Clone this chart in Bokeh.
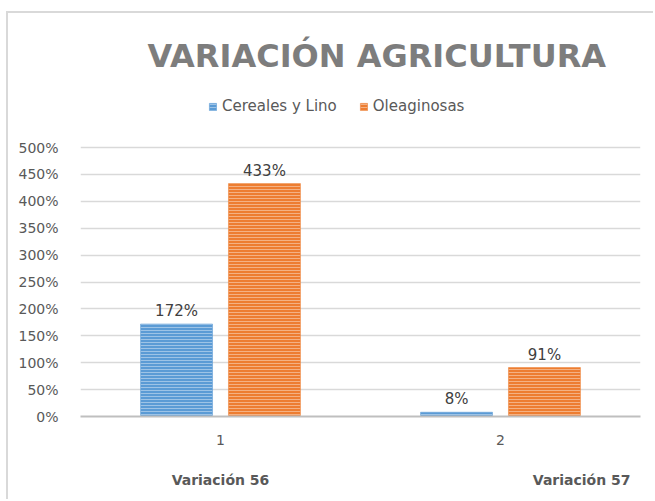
from bokeh.plotting import figure
from bokeh.models import (ColumnDataSource, FixedTicker, NumeralTickFormatter,
                          Legend, LegendItem, Title, LinearAxis, Range1d)
from bokeh.transform import dodge
from bokeh.core.properties import value
from bokeh.embed import file_html
from bokeh.resources import INLINE

# ---- data ----
categories = [1, 2]
cereales = [1.72, 0.08]
oleaginosas = [4.33, 0.91]
series_names = ["Cereales y Lino", "Oleaginosas"]
y_ticks = [0, 0.5, 1.0, 1.5, 2.0, 2.5, 3.0, 3.5, 4.0, 4.5, 5.0]
group_notes = ["Variación 56", "Variación 57"]
group_note_pos = [1.0, 2.29]
title_text = "VARIACIÓN AGRICULTURA"

src = ColumnDataSource(dict(
    cat=categories,
    cer=cereales,
    ole=oleaginosas,
    cer_lbl=[f"{round(v*100)}%" for v in cereales],
    ole_lbl=[f"{round(v*100)}%" for v in oleaginosas],
))

FONT = "DejaVu Sans"

# frame top extends above the 500% line to hold the legend (no grid/ticks there)
p = figure(x_range=Range1d(0.5, 2.5), y_range=Range1d(0, 6.06),
           width=647, height=488, output_backend="svg", toolbar_location=None,
           min_border_left=72, min_border_right=15, min_border_bottom=85, min_border_top=77,
           title=None)
p.styles = {"margin-left": "6px", "margin-top": "11px",
            "border-top": "2px solid #d9d9d9", "border-left": "2px solid #d9d9d9"}

p.outline_line_color = None
p.background_fill_color = "white"
p.border_fill_color = "white"

r1 = p.vbar(x=dodge("cat", -0.157), top="cer", width=0.257, source=src,
            fill_color="#5b9bd5", line_color="#5b9bd5", line_width=0.5,
            hatch_pattern="horizontal_line", hatch_color="white", hatch_alpha=0.4,
            hatch_scale=3, hatch_weight=1)
r2 = p.vbar(x=dodge("cat", 0.157), top="ole", width=0.257, source=src,
            fill_color="#ed7d31", line_color="#ed7d31", line_width=0.5,
            hatch_pattern="horizontal_line", hatch_color="white", hatch_alpha=0.4,
            hatch_scale=3, hatch_weight=1)

p.text(x=dodge("cat", -0.157), y="cer", text="cer_lbl", source=src,
       text_align="center", text_baseline="alphabetic", y_offset=-13,
       text_font=value(FONT), text_font_size="15px", text_color="#404040")
p.text(x=dodge("cat", 0.157), y="ole", text="ole_lbl", source=src,
       text_align="center", text_baseline="alphabetic", y_offset=-13,
       text_font=value(FONT), text_font_size="15px", text_color="#404040")

# axes
p.yaxis.ticker = FixedTicker(ticks=y_ticks)
p.yaxis.formatter = NumeralTickFormatter(format="0%")
p.yaxis.axis_line_color = None
p.yaxis.major_tick_line_color = None
p.yaxis.minor_tick_line_color = None
p.yaxis.major_label_standoff = 16
p.yaxis.major_label_text_font = FONT
p.yaxis.major_label_text_font_size = "14px"
p.yaxis.major_label_text_color = "#595959"

p.xaxis.ticker = FixedTicker(ticks=categories)
p.xaxis.major_label_overrides = {c: str(c) for c in categories}
p.xaxis.axis_line_color = "#bfbfbf"
p.xaxis.axis_line_width = 2
p.xaxis.major_tick_line_color = None
p.xaxis.minor_tick_line_color = None
p.xaxis.major_label_standoff = 12
p.xaxis.major_label_text_font = FONT
p.xaxis.major_label_text_font_size = "14px"
p.xaxis.major_label_text_color = "#595959"

# second row of labels below the axis
ax2 = LinearAxis(ticker=FixedTicker(ticks=group_note_pos),
                 major_label_overrides={k: v for k, v in zip(group_note_pos, group_notes)})
ax2.axis_line_color = None
ax2.major_tick_line_color = None
ax2.minor_tick_line_color = None
ax2.major_label_standoff = 18
ax2.major_label_text_font = FONT
ax2.major_label_text_font_size = "14px"
ax2.major_label_text_font_style = "bold"
ax2.major_label_text_color = "#595959"
p.add_layout(ax2, "below")

p.xgrid.grid_line_color = None
p.ygrid.grid_line_color = "#d9d9d9"
p.ygrid.grid_line_width = 1.5

legend = Legend(items=[LegendItem(label=series_names[0], renderers=[r1]),
                       LegendItem(label=series_names[1], renderers=[r2])],
                orientation="horizontal", location=(128, 301), margin=0, padding=0,
                spacing=22, glyph_width=9, glyph_height=9, label_standoff=5,
                label_text_font=FONT, label_text_font_size="15px",
                label_text_color="#595959", border_line_alpha=0,
                background_fill_alpha=0)
p.add_layout(legend, "center")

t = Title(text=title_text, align="left", offset=67, standoff=32,
          text_font=FONT, text_font_size="32px", text_font_style="bold",
          text_color="#7d7d7d")
p.add_layout(t, "above")

open("out.html", "w").write(file_html(p, INLINE))
